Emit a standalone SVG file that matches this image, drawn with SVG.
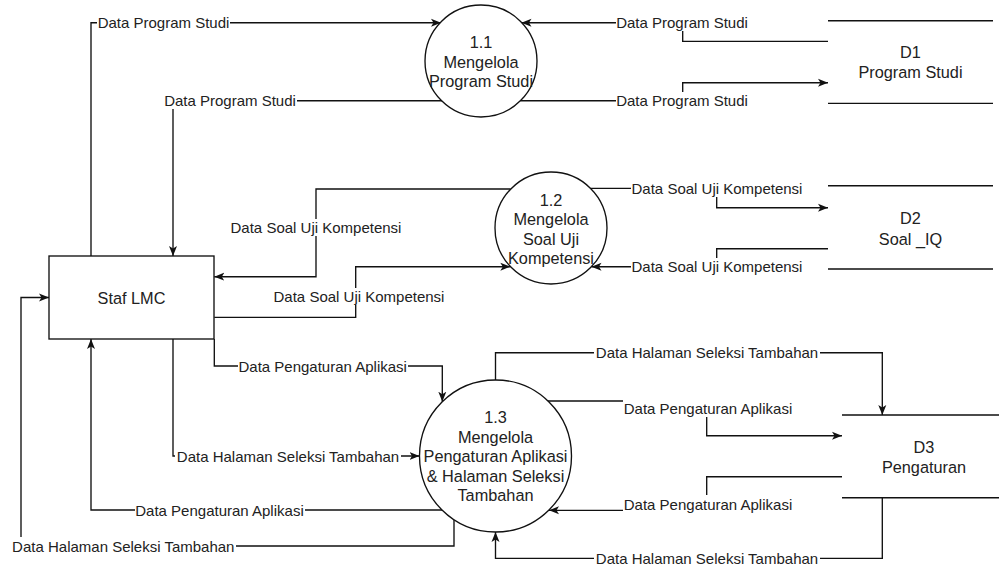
<svg xmlns="http://www.w3.org/2000/svg" width="999" height="565" viewBox="0 0 999 565">
<style>
.ln{fill:none;stroke:#111;stroke-width:1.35}
.sh{fill:#fff;stroke:#111;stroke-width:1.35}
.nt{font-family:"Liberation Sans",Arial,sans-serif;font-size:16.3px;fill:#222;text-anchor:middle;dominant-baseline:central}
.lt{font-family:"Liberation Sans",Arial,sans-serif;font-size:15px;fill:#222;text-anchor:middle;dominant-baseline:central}
.bg{fill:#fff;stroke:none}
</style>
<defs>
<marker id="ar" markerUnits="userSpaceOnUse" viewBox="0 0 10 10" refX="10" refY="5" markerWidth="10" markerHeight="10" orient="auto">
<path d="M0,1 L10,5 L0,9 L2.5,5 z" fill="#111"/>
</marker>
</defs>
<rect width="999" height="565" fill="#fff"/>

<g id="connectors">
<path class="ln" marker-end="url(#ar)" d="M91,256 V22.7 H441"/>
<path class="ln" marker-end="url(#ar)" d="M442,100.7 H173 V256"/>
<path class="ln" marker-end="url(#ar)" d="M828,41.3 H682.7 V22.7 H521.5"/>
<path class="ln" marker-end="url(#ar)" d="M520.5,100.7 H682.7 V82.7 H828"/>
<path class="ln" marker-end="url(#ar)" d="M510.6,189 H316 V276.7 H214.3"/>
<path class="ln" marker-end="url(#ar)" d="M214.3,317.3 H355.7 V266.7 H510.3"/>
<path class="ln" marker-end="url(#ar)" d="M590.5,188.3 H716.7 V207.7 H828"/>
<path class="ln" marker-end="url(#ar)" d="M828,248.7 H716.7 V266.7 H591.5"/>
<path class="ln" marker-end="url(#ar)" d="M214.3,339 V366 H442.3 V401.7"/>
<path class="ln" marker-end="url(#ar)" d="M173,339 V456 H419.5"/>
<path class="ln" marker-end="url(#ar)" d="M442,510 H91 V339"/>
<path class="ln" marker-end="url(#ar)" d="M454,519.7 V546 H21 V297.5 H49"/>
<path class="ln" marker-end="url(#ar)" d="M495.5,380 V352.7 H882.3 V415"/>
<path class="ln" marker-end="url(#ar)" d="M548,401 H706.7 V435.7 H842"/>
<path class="ln" marker-end="url(#ar)" d="M842,476.7 H706.7 V510.3 H549"/>
<path class="ln" marker-end="url(#ar)" d="M882.3,497.7 V558.3 H495.5 V532"/>

<rect class="bg" x="97" y="14" width="133" height="17"/>
<text class="lt" x="163.5" y="22.7">Data Program Studi</text>
<rect class="bg" x="164" y="92" width="133" height="17"/>
<text class="lt" x="230" y="100.7">Data Program Studi</text>
<rect class="bg" x="616" y="14" width="133" height="17"/>
<text class="lt" x="682" y="22.7">Data Program Studi</text>
<rect class="bg" x="616" y="92" width="133" height="17"/>
<text class="lt" x="682" y="100.7">Data Program Studi</text>

<rect class="bg" x="230" y="219" width="172" height="17"/>
<text class="lt" x="316" y="227.7">Data Soal Uji Kompetensi</text>
<rect class="bg" x="273" y="288" width="172" height="17"/>
<text class="lt" x="359" y="296.7">Data Soal Uji Kompetensi</text>
<rect class="bg" x="631" y="180" width="172" height="17"/>
<text class="lt" x="717" y="188.3">Data Soal Uji Kompetensi</text>
<rect class="bg" x="631" y="258" width="172" height="17"/>
<text class="lt" x="717" y="266.7">Data Soal Uji Kompetensi</text>

<rect class="bg" x="238" y="357" width="170" height="17"/>
<text class="lt" x="322.7" y="366">Data Pengaturan Aplikasi</text>
<rect class="bg" x="175" y="448" width="226" height="17"/>
<text class="lt" x="288" y="456.5">Data Halaman Seleksi Tambahan</text>
<rect class="bg" x="135" y="501" width="170" height="17"/>
<text class="lt" x="219.5" y="510">Data Pengaturan Aplikasi</text>
<rect class="bg" x="10" y="537" width="226" height="17"/>
<text class="lt" x="123.3" y="546">Data Halaman Seleksi Tambahan</text>

<rect class="bg" x="594" y="344" width="226" height="17"/>
<text class="lt" x="707" y="352.7">Data Halaman Seleksi Tambahan</text>
<rect class="bg" x="623" y="399" width="170" height="18"/>
<text class="lt" x="708" y="408.3">Data Pengaturan Aplikasi</text>
<rect class="bg" x="623" y="495" width="170" height="18"/>
<text class="lt" x="708" y="504.3">Data Pengaturan Aplikasi</text>
<rect class="bg" x="594" y="550" width="226" height="17"/>
<text class="lt" x="707" y="558.3">Data Halaman Seleksi Tambahan</text>
</g>

<g id="staf-lmc">
<rect class="sh" x="49" y="256" width="165" height="83"/>
<text class="nt" x="131.5" y="297.5">Staf LMC</text>
</g>

<g id="p1-1">
<circle class="sh" cx="481" cy="61" r="56"/>
<text class="nt" x="481" y="42">1.1</text>
<text class="nt" x="481" y="61.5">Mengelola</text>
<text class="nt" x="481" y="81">Program Studi</text>
</g>

<g id="p1-2">
<circle class="sh" cx="551" cy="228" r="56"/>
<text class="nt" x="551" y="199.5">1.2</text>
<text class="nt" x="551" y="219">Mengelola</text>
<text class="nt" x="551" y="238.5">Soal Uji</text>
<text class="nt" x="551" y="258">Kompetensi</text>
</g>

<g id="p1-3">
<circle class="sh" cx="495.5" cy="456" r="76"/>
<text class="nt" x="495.5" y="417">1.3</text>
<text class="nt" x="495.5" y="436.5">Mengelola</text>
<text class="nt" x="495.5" y="456">Pengaturan Aplikasi</text>
<text class="nt" x="495.5" y="475.5">&amp; Halaman Seleksi</text>
<text class="nt" x="495.5" y="495">Tambahan</text>
</g>

<g id="d1">
<path class="ln" d="M828,20.7 H993 M828,103.3 H993"/>
<text class="nt" x="910.5" y="51.7">D1</text>
<text class="nt" x="910.5" y="71.7">Program Studi</text>
</g>

<g id="d2">
<path class="ln" d="M828,185.7 H993 M828,269 H993"/>
<text class="nt" x="910.5" y="218">D2</text>
<text class="nt" x="910.5" y="238.5">Soal _IQ</text>
</g>

<g id="d3">
<path class="ln" d="M842,415 H1007 M842,497.7 H1007"/>
<text class="nt" x="924" y="446.7">D3</text>
<text class="nt" x="924" y="467.2">Pengaturan</text>
</g>
</svg>
